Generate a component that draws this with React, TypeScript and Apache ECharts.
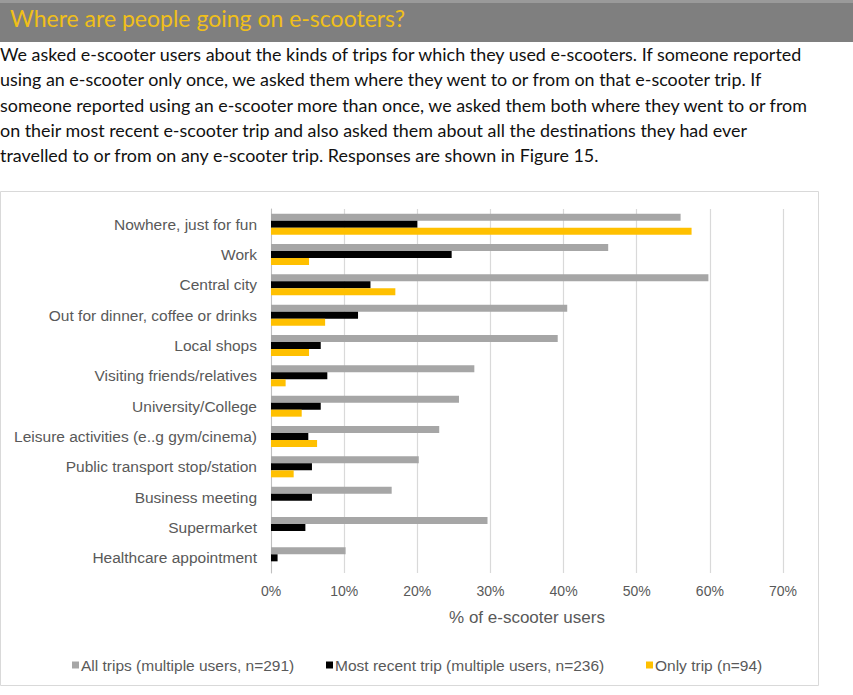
import React, { useEffect, useRef } from "react";
import * as echarts from "echarts";

const categories = [
  "Nowhere, just for fun",
  "Work",
  "Central city",
  "Out for dinner, coffee or drinks",
  "Local shops",
  "Visiting friends/relatives",
  "University/College",
  "Leisure activities (e..g gym/cinema)",
  "Public transport stop/station",
  "Business meeting",
  "Supermarket",
  "Healthcare appointment",
];

const allTrips = [56, 46.1, 59.8, 40.5, 39.2, 27.8, 25.7, 23.0, 20.2, 16.5, 29.6, 10.2];
const mostRecentTrip = [20, 24.7, 13.6, 11.9, 6.8, 7.7, 6.8, 5.1, 5.6, 5.6, 4.7, 0.9];
const onlyTrip = [57.5, 5.2, 17.0, 7.4, 5.2, 2.0, 4.2, 6.3, 3.1, 0, 0, 0];

const seriesNames = [
  "All trips (multiple users, n=291)",
  "Most recent trip (multiple users, n=236)",
  "Only trip (n=94)",
];

const xTicks = { min: 0, max: 70, interval: 10 };

const heading = "Where are people going on e-scooters?";
const introLines = [
  "We asked e-scooter users about the kinds of trips for which they used e-scooters. If someone reported",
  "using an e-scooter only once, we asked them where they went to or from on that e-scooter trip. If",
  "someone reported using an e-scooter more than once, we asked them both where they went to or from",
  "on their most recent e-scooter trip and also asked them about all the destinations they had ever",
  "travelled to or from on any e-scooter trip. Responses are shown in Figure 15.",
];

const GREY = "#a6a6a6";
const BLACK = "#000000";
const GOLD = "#ffc000";
const LABEL = "#595959";

// left edge of each legend entry
const legendLefts = [67, 321, 641];

export default function App() {
  const ref = useRef<HTMLDivElement>(null);

  useEffect(() => {
    document.body.style.margin = "0";
    const chart = echarts.init(ref.current!, null, { renderer: "svg" });

    const textFont = "Lato, 'Open Sans', sans-serif";
    const chartFont = "'Liberation Sans', Arial, sans-serif";

    const introText = introLines.map((line, i) => ({
      type: "text",
      left: 0,
      top: 45 + i * 25.3,
      z: 5,
      style: {
        text: line,
        fill: "#111111",
        font: `17.9px ${textFont}`,
      },
    }));

    const legends = seriesNames.map((name, i) => ({
      top: 652,
      left: legendLefts[i],
      icon: "rect",
      itemWidth: 7,
      itemHeight: 7,
      textStyle: { color: LABEL, fontSize: 15.5, padding: [0, 0, 0, -3] },
      data: [name],
    }));

    chart.setOption({
      animation: false,
      textStyle: { fontFamily: chartFont },
      graphic: [
        { type: "rect", z: -1, shape: { x: 0, y: 0, width: 853, height: 42 }, style: { fill: "#7f7f7f" } },
        { type: "rect", z: -1, shape: { x: 0, y: 0, width: 853, height: 3 }, style: { fill: "#9a9a9a" } },
        {
          type: "text",
          left: 10,
          top: 6,
          z: 5,
          style: { text: heading, fill: "#f0bf1a", font: `23px ${textFont}` },
        },
        ...introText,
        {
          type: "rect",
          z: -1,
          shape: { x: 0.5, y: 191.5, width: 818, height: 494 },
          style: { fill: "#ffffff", stroke: "#d9d9d9", lineWidth: 1 },
        },
      ],
      grid: { left: 271, right: 70, top: 209, height: 364, containLabel: false },
      xAxis: {
        type: "value",
        min: xTicks.min,
        max: xTicks.max,
        interval: xTicks.interval,
        axisLine: { show: false },
        axisTick: { show: false },
        axisLabel: { formatter: "{value}%", color: LABEL, fontSize: 14, margin: 11 },
        splitLine: { lineStyle: { color: "#d9d9d9", width: 1.2 } },
        name: "% of e-scooter users",
        nameLocation: "middle",
        nameGap: 36,
        nameTextStyle: { color: LABEL, fontSize: 17 },
      },
      yAxis: {
        type: "category",
        data: categories,
        inverse: true,
        axisTick: { show: false },
        axisLine: { lineStyle: { color: "#bfbfbf" } },
        axisLabel: { color: LABEL, fontSize: 15.5, margin: 14 },
      },
      legend: legends,
      series: [
        { name: seriesNames[0], type: "bar", data: allTrips, barWidth: 7, barGap: "0%", itemStyle: { color: GREY } },
        { name: seriesNames[1], type: "bar", data: mostRecentTrip, barWidth: 7, barGap: "0%", itemStyle: { color: BLACK } },
        { name: seriesNames[2], type: "bar", data: onlyTrip, barWidth: 7, barGap: "0%", itemStyle: { color: GOLD } },
      ],
    });

    return () => chart.dispose();
  }, []);

  return <div ref={ref} style={{ width: 853, height: 695 }} />;
}
